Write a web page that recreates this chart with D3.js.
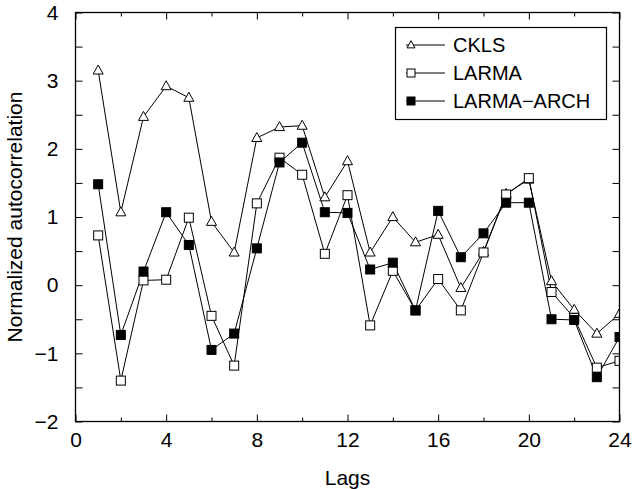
<!DOCTYPE html>
<html>
<head>
<meta charset="utf-8">
<script src="https://cdn.jsdelivr.net/npm/d3@7"></script>
<style>
  body { margin: 0; background: #fff; }
  text { font-family: "Liberation Sans", Arial, Helvetica, sans-serif; fill: #000; }
</style>
</head>
<body>
<svg id="canvas"></svg>
<script>
// lags 1..24
const lags = d3.range(1, 25);
const ckls = [3.15, 1.07, 2.47, 2.92, 2.75, 0.93, 0.48, 2.16, 2.32, 2.34, 1.29, 1.82,
              0.48, 1.00, 0.63, 0.74, -0.04, 0.49, 1.34, 1.55, 0.06, -0.36, -0.71, -0.42];
const larma = [0.73, -1.40, 0.07, 0.08, 0.99, -0.45, -1.18, 1.20, 1.87, 1.62, 0.46, 1.32,
               -0.59, 0.21, -0.37, 0.09, -0.37, 0.48, 1.33, 1.57, -0.10, -0.48, -1.21, -1.11];
const larmaArch = [1.48, -0.73, 0.20, 1.07, 0.59, -0.95, -0.71, 0.54, 1.80, 2.09, 1.07, 1.06,
                   0.23, 0.33, -0.37, 1.09, 0.41, 0.76, 1.21, 1.21, -0.50, -0.51, -1.35, -0.76];
const seriesNames = ["CKLS", "LARMA", "LARMA\u2212ARCH"];
const xMajor = [0, 4, 8, 12, 16, 20, 24];
const xMinor = [2, 6, 10, 14, 18, 22];
const yMajor = [-2, -1, 0, 1, 2, 3, 4];
const yMinor = [-1.5, -0.5, 0.5, 1.5, 2.5, 3.5];

let width = 632;
let height = 489;
let margin = { left: 75.5, right: 12.5, top: 12.5, bottom: 67.5 };

let canvas = d3.select('#canvas').attr('width', width).attr('height', height);

let xScale = d3.scaleLinear().domain([0, 24]).range([margin.left, width - margin.right]);
let yScale = d3.scaleLinear().domain([-2, 4]).range([height - margin.bottom, margin.top]);

const fmt = d3.format("d");

// axes: ticks point inward, mirrored on top/right
let drawAxes = () => {
    const bottom = height - margin.bottom, top = margin.top;
    const left = margin.left, right = width - margin.right;

    let gx = canvas.append('g').attr('transform', `translate(0,${bottom})`)
        .call(d3.axisBottom(xScale).tickValues(xMajor).tickSize(-7).tickPadding(11).tickFormat(fmt));
    canvas.append('g').attr('transform', `translate(0,${bottom})`)
        .call(d3.axisBottom(xScale).tickValues(xMinor).tickSize(-4).tickFormat(""));
    canvas.append('g').attr('transform', `translate(0,${top})`)
        .call(d3.axisTop(xScale).tickValues(xMajor).tickSize(-7).tickFormat(""));
    canvas.append('g').attr('transform', `translate(0,${top})`)
        .call(d3.axisTop(xScale).tickValues(xMinor).tickSize(-4).tickFormat(""));

    let gy = canvas.append('g').attr('transform', `translate(${left},0)`)
        .call(d3.axisLeft(yScale).tickValues(yMajor).tickSize(-7).tickPadding(17).tickFormat(fmt));
    canvas.append('g').attr('transform', `translate(${left},0)`)
        .call(d3.axisLeft(yScale).tickValues(yMinor).tickSize(-7).tickFormat(""));
    canvas.append('g').attr('transform', `translate(${right},0)`)
        .call(d3.axisRight(yScale).tickValues(yMajor).tickSize(-7).tickFormat(""));
    canvas.append('g').attr('transform', `translate(${right},0)`)
        .call(d3.axisRight(yScale).tickValues(yMinor).tickSize(-7).tickFormat(""));

    canvas.selectAll('.domain').remove();
    canvas.selectAll('.tick line').attr('stroke', '#000').attr('stroke-width', 1);
    canvas.selectAll('.tick text').style('font-size', '21px')
        .style('font-family', '"Liberation Sans", Arial, sans-serif');
    gx.selectAll('.tick text').attr('dy', '0.71em');

    canvas.append('rect')
        .attr('x', left).attr('y', top)
        .attr('width', right - left).attr('height', bottom - top)
        .attr('fill', 'none').attr('stroke', '#000').attr('stroke-width', 1.3);

    canvas.append('text')
        .attr('x', (left + right) / 2).attr('y', 485)
        .attr('text-anchor', 'middle')
        .style('font-size', '21px')
        .text('Lags');

    canvas.append('text')
        .attr('transform', `translate(22,${(top + bottom) / 2}) rotate(-90)`)
        .attr('text-anchor', 'middle')
        .style('font-size', '21px')
        .text('Normalized autocorrelation');
}

// marker drawing
let drawMarker = (g, type, x, y, s) => {
    if (type === 0) {
        const h = s * 0.9;
        g.append('path')
            .attr('d', `M${x},${y - h * 0.6}L${x + s / 2},${y + h * 0.4}L${x - s / 2},${y + h * 0.4}Z`)
            .attr('fill', '#fff').attr('stroke', '#000').attr('stroke-width', 1);
    } else {
        g.append('rect')
            .attr('x', x - s / 2).attr('y', y - s / 2)
            .attr('width', s).attr('height', s)
            .attr('fill', type === 2 ? '#000' : '#fff')
            .attr('stroke', '#000').attr('stroke-width', 1);
    }
}

let drawPlot = () => {
    canvas.append('clipPath').attr('id', 'clip')
        .append('rect')
        .attr('x', margin.left).attr('y', margin.top)
        .attr('width', width - margin.left - margin.right)
        .attr('height', height - margin.top - margin.bottom);

    let plot = canvas.append('g').attr('clip-path', 'url(#clip)');
    let line = d3.line().x((d, i) => xScale(lags[i])).y(d => yScale(d));

    [ckls, larma, larmaArch].forEach((data, k) => {
        plot.append('path')
            .attr('d', line(data))
            .attr('fill', 'none').attr('stroke', '#000').attr('stroke-width', 1);
    });
    [ckls, larma, larmaArch].forEach((data, k) => {
        data.forEach((d, i) => drawMarker(plot, k, xScale(lags[i]), yScale(d), k === 0 ? 10 : 9));
    });
}

let drawLegend = () => {
    let lg = canvas.append('g');
    lg.append('rect')
        .attr('x', 395.5).attr('y', 27.5).attr('width', 211).attr('height', 92)
        .attr('fill', '#fff').attr('stroke', '#000').attr('stroke-width', 1.2);
    seriesNames.forEach((name, k) => {
        const y = 45 + k * 28;
        lg.append('line')
            .attr('x1', 406).attr('x2', 445).attr('y1', y).attr('y2', y)
            .attr('stroke', '#000').attr('stroke-width', 1);
        drawMarker(lg, k, 411, y, 8);
        lg.append('text')
            .attr('x', 453).attr('y', y).attr('dy', '0.36em')
            .style('font-size', '20px')
            .text(name);
    });
}

drawPlot();
drawAxes();
drawLegend();
</script>
</body>
</html>
